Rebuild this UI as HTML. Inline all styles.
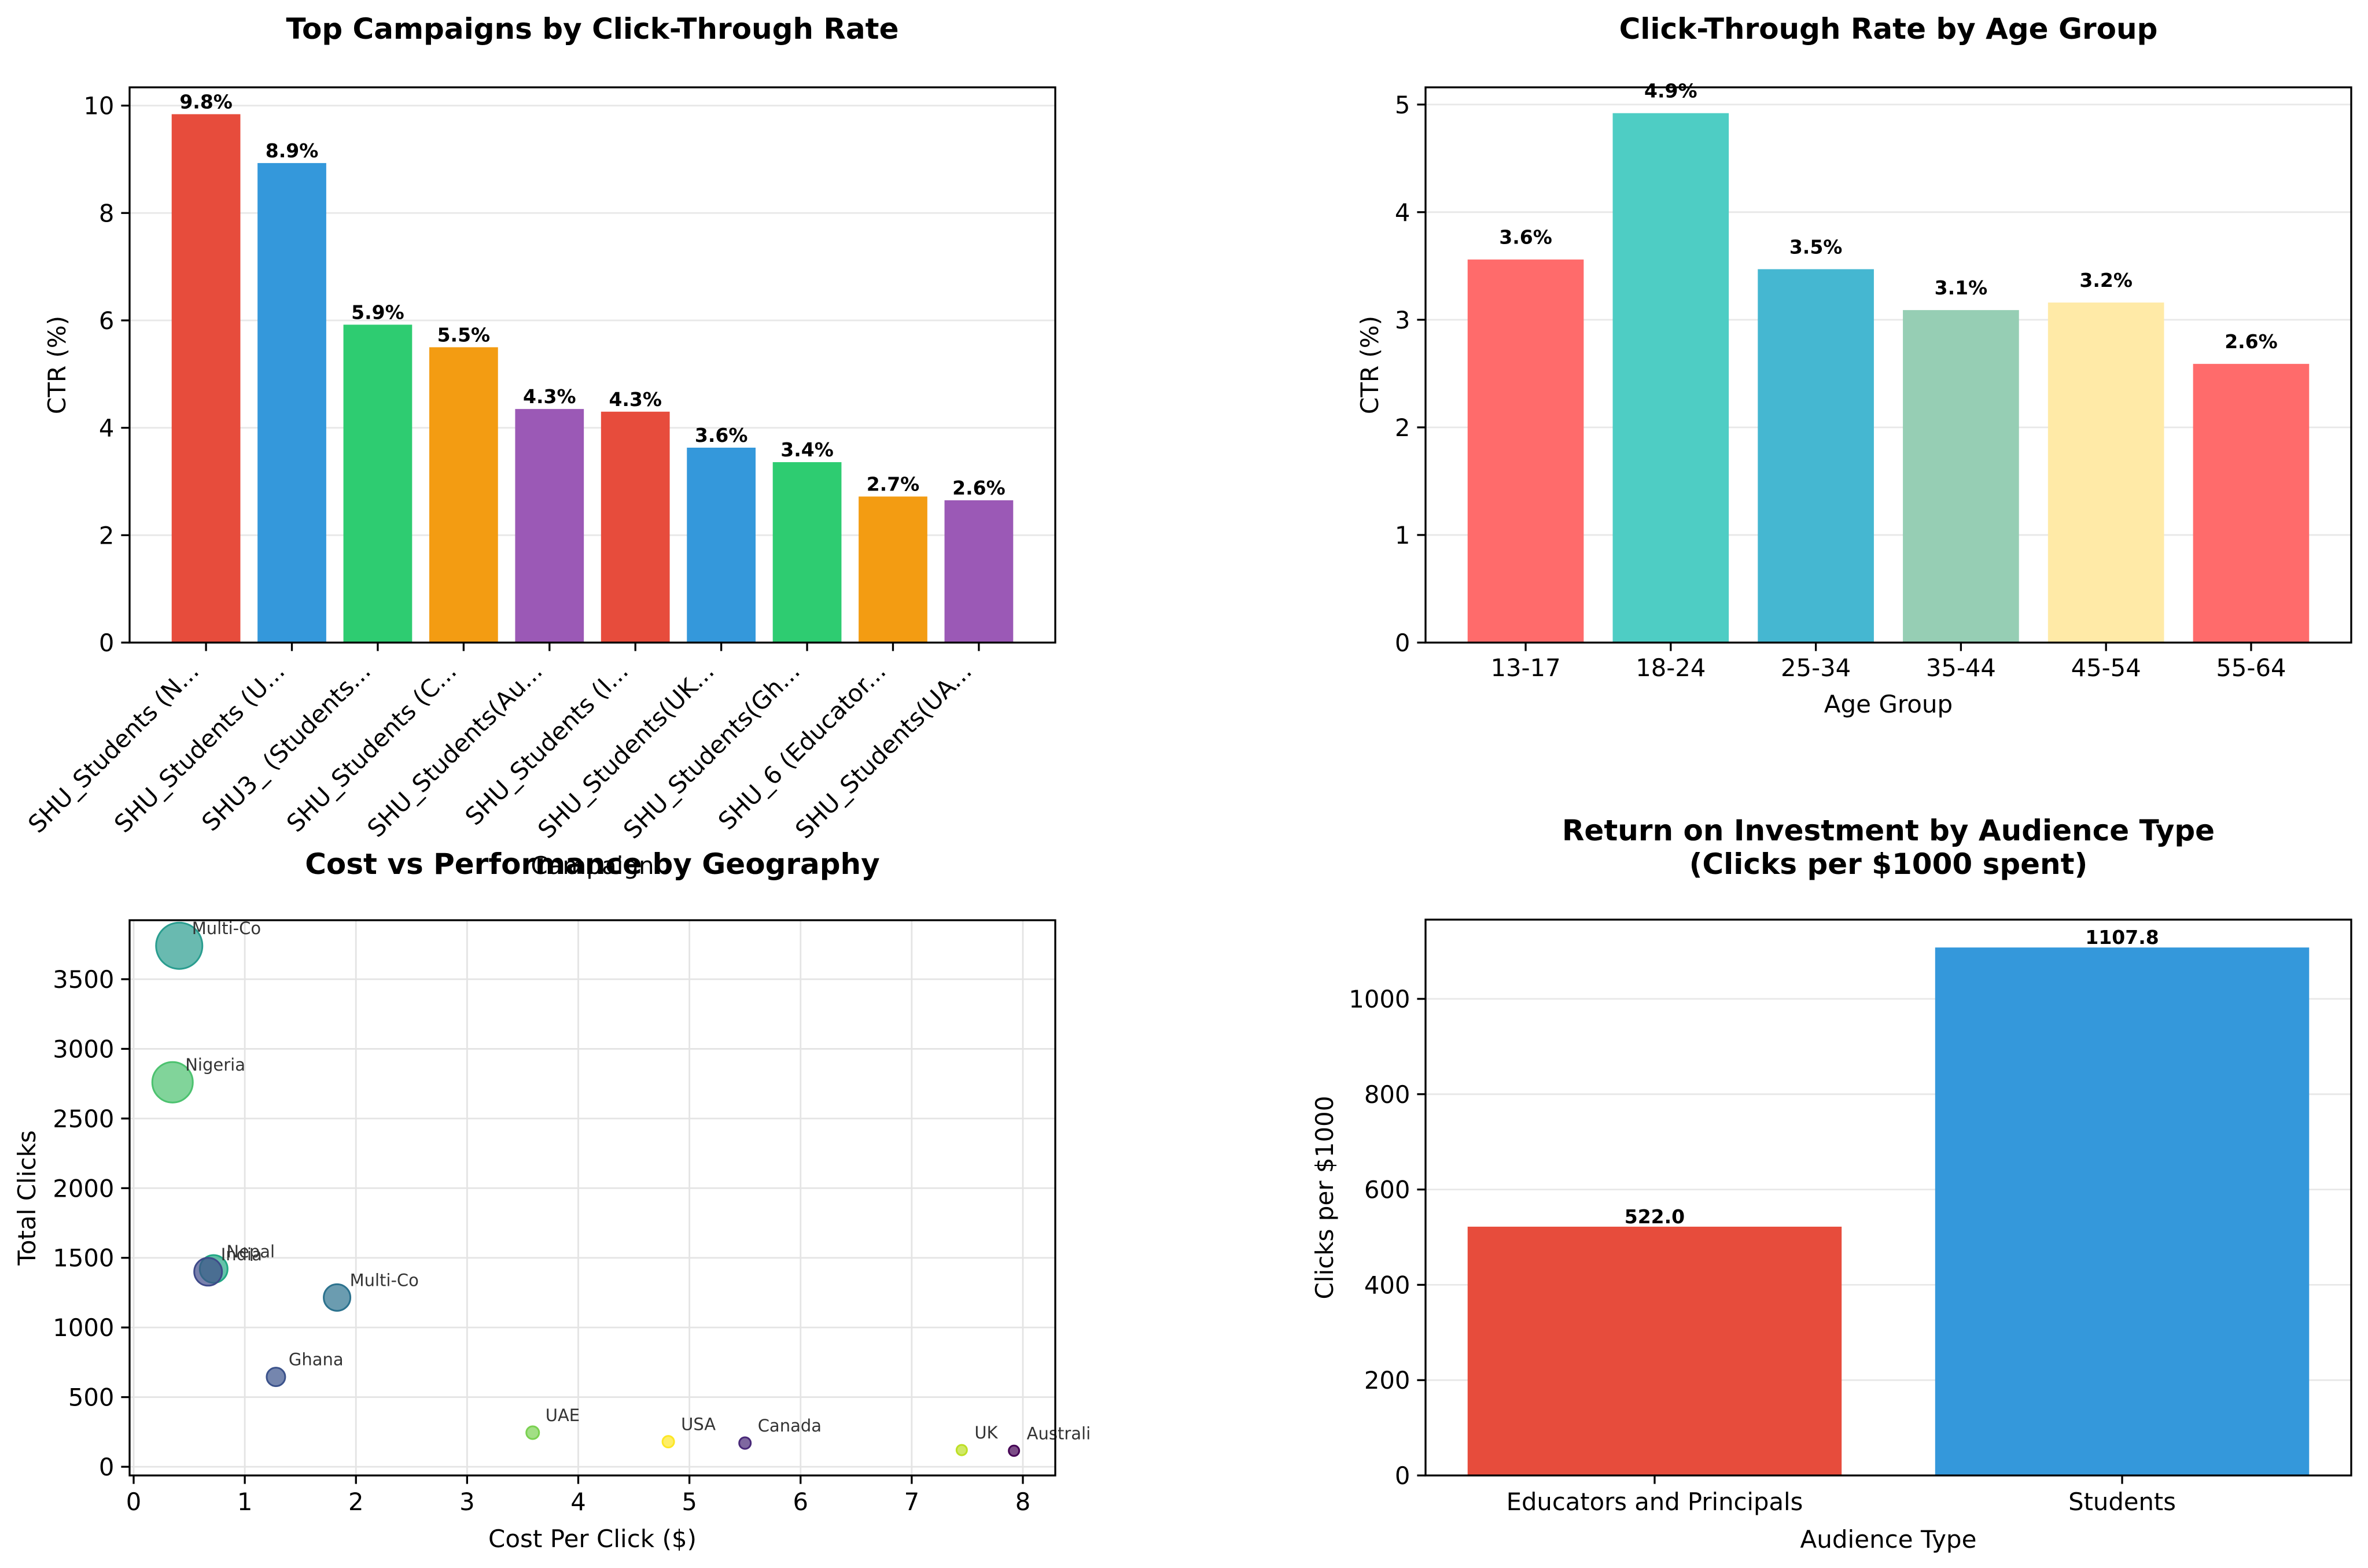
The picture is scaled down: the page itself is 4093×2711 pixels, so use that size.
<!DOCTYPE html>
<html><head><meta charset="utf-8"><style>
html,body{margin:0;padding:0;background:#fff}
svg{display:block;font-family:"DejaVu Sans","Liberation Sans",sans-serif}
</style></head><body>
<svg id="fig" width="4093" height="2711" viewBox="0 0 4093 2711" xmlns="http://www.w3.org/2000/svg"></svg>
<script>
// ---- data ----
const campaignLabels = ["SHU_Students (N...","SHU_Students (U...","SHU3_ (Students...","SHU_Students (C...","SHU_Students(Au...","SHU_Students (I...","SHU_Students(UK...","SHU_Students(Gh...","SHU_6 (Educator...","SHU_Students(UA..."];
const campaignCTR = [9.84, 8.93, 5.92, 5.5, 4.35, 4.3, 3.63, 3.36, 2.72, 2.65];
const campaignColors = ["#e74c3c","#3498db","#2ecc71","#f39c12","#9b59b6","#e74c3c","#3498db","#2ecc71","#f39c12","#9b59b6"];
const ctrTicks = [0,2,4,6,8,10];

const ageGroups = ["13-17","18-24","25-34","35-44","45-54","55-64"];
const ageCTR = [3.56, 4.92, 3.47, 3.09, 3.16, 2.59];
const ageColors = ["#ff6b6b","#4ecdc4","#45b7d1","#96ceb4","#ffeaa7","#ff6b6b"];
const ageTicks = [0,1,2,3,4,5];

const geoNames = ["Multi-Co","Nigeria","Nepal","India","Multi-Co","Ghana","UAE","USA","Canada","UK","Australi"];
const geoCPC = [0.41, 0.35, 0.72, 0.67, 1.83, 1.28, 3.59, 4.81, 5.5, 7.45, 7.92];
const geoClicks = [3740, 2760, 1420, 1400, 1215, 645, 245, 180, 170, 120, 115];
const geoRadius = [40, 35, 24, 24, 23, 16, 11, 10, 10, 9, 9];
const geoColors = ["#2a9d8f","#4cc26f","#22a884","#3e4a89","#2c728e","#3b528b","#7ad151","#fde725","#482878","#bddf26","#440154"];
const cpcTicks = [0,1,2,3,4,5,6,7,8];
const clickTicks = [0,500,1000,1500,2000,2500,3000,3500];

const audienceTypes = ["Educators and Principals","Students"];
const audienceROI = [522.0, 1107.8];
const audienceColors = ["#e74c3c","#3498db"];
const roiTicks = [0,200,400,600,800,1000];

// ---- helpers ----
const NS = "http://www.w3.org/2000/svg";
const svg = document.getElementById("fig");
const TICK = 41.7, LAB = 42, TIT = 50, VAL = 33, ANN = 29, TL = 14.6;
function mk(tag, attrs, parent, text){
  const e = document.createElementNS(NS, tag);
  for (const k in attrs) e.setAttribute(k, attrs[k]);
  if (text !== undefined) e.textContent = text;
  (parent || svg).appendChild(e);
  return e;
}
function linear(d0,d1,r0,r1){ return v => r0 + (v-d0)/(d1-d0)*(r1-r0); }

function frame(g, L, R, T, B){
  const f = mk("rect",{x:L,y:T,width:R-L,height:B-T,fill:"none",stroke:"#000","stroke-width":3.3},g);
  
  
}
function yAxis(g, ticks, y, L, R, gridColor){
  ticks.forEach(t=>{
    const yy = y(t);
    const gl = mk("line",{x1:L,x2:R,y1:yy,y2:yy,stroke:gridColor,"stroke-width":2.8},g);
    
    
    mk("line",{x1:L-TL,x2:L,y1:yy,y2:yy,stroke:"#000","stroke-width":3.3},g);
    const tx = mk("text",{x:L-TL-12,y:yy+15,"text-anchor":"end","font-size":TICK},g,String(t));
    
    
  });
}
function title(g, x, y, txt){
  const t = mk("text",{x:x,y:y,"text-anchor":"middle","font-size":TIT,"font-weight":"bold"},g,txt);
  
  
}
function ylabel(g, x, y, txt){
  const t = mk("text",{x:x,y:y,"text-anchor":"middle","font-size":LAB,transform:`rotate(-90 ${x} ${y})`},g,txt);
  
  
}
function xlabel(g, x, y, txt){
  const t = mk("text",{x:x,y:y,"text-anchor":"middle","font-size":LAB},g,txt);
  
  
}

// ---- panel 1: campaigns ----
(function(){
  const g = mk("g",{});  
  const L=224,R=1824,T=151,B=1111;
  const n = campaignCTR.length;
  const x = linear(-0.89, n-1+0.89, L, R);
  const y = linear(0, 10.34, B, T);
  yAxis(g, ctrTicks, y, L, R, "#e8e8e8");
  const bw = (x(0.8)-x(0));
  campaignCTR.forEach((v,i)=>{
    const r = mk("rect",{x:x(i)-bw/2,y:y(v),width:bw,height:B-y(v),fill:campaignColors[i]},g);
    
    
    const lb = mk("text",{x:x(i),y:y(v)-10,"text-anchor":"middle","font-size":VAL,"font-weight":"bold"},g,v.toFixed(1)+"%");
    
    
    mk("line",{x1:x(i),x2:x(i),y1:B,y2:B+TL,stroke:"#000","stroke-width":3.3},g);
    const ax = x(i)-10, ay = B+52;
    const tl = mk("text",{x:ax,y:ay,"text-anchor":"end","font-size":TICK,transform:`rotate(-45 ${ax} ${ay})`},g,campaignLabels[i]);
    
    
  });
  frame(g,L,R,T,B);
  ylabel(g, 113, (T+B)/2, "CTR (%)");
  xlabel(g, 1024, 1511, "Campaign");
  title(g, 1024, 67, "Top Campaigns by Click-Through Rate");
})();

// ---- panel 2: age ----
(function(){
  const g = mk("g",{});  
  const L=2464,R=4064,T=151,B=1111;
  const n = ageCTR.length;
  const x = linear(-0.69, n-1+0.69, L, R);
  const y = linear(0, 5.16, B, T);
  yAxis(g, ageTicks, y, L, R, "#e8e8e8");
  const bw = (x(0.8)-x(0));
  ageCTR.forEach((v,i)=>{
    const r = mk("rect",{x:x(i)-bw/2,y:y(v),width:bw,height:B-y(v),fill:ageColors[i]},g);
    
    
    const lb = mk("text",{x:x(i),y:y(v)-27,"text-anchor":"middle","font-size":VAL,"font-weight":"bold"},g,v.toFixed(1)+"%");
    
    
    mk("line",{x1:x(i),x2:x(i),y1:B,y2:B+TL,stroke:"#000","stroke-width":3.3},g);
    const tl = mk("text",{x:x(i),y:B+58,"text-anchor":"middle","font-size":TICK},g,ageGroups[i]);
    
    
  });
  frame(g,L,R,T,B);
  ylabel(g, 2382, (T+B)/2, "CTR (%)");
  xlabel(g, 3264, 1232, "Age Group");
  title(g, 3264, 67, "Click-Through Rate by Age Group");
})();

// ---- panel 3: scatter ----
(function(){
  const g = mk("g",{});  
  const L=224,R=1824,T=1591,B=2551;
  const x = linear(0, 8, 231, 1768);
  const y = linear(0, 3500, 2536, 1693);
  cpcTicks.forEach(t=>{
    const xx=x(t);
    const gl = mk("line",{x1:xx,x2:xx,y1:T,y2:B,stroke:"#e4e4e4","stroke-width":2.8},g);
    
    
    mk("line",{x1:xx,x2:xx,y1:B,y2:B+TL,stroke:"#000","stroke-width":3.3},g);
    const tl = mk("text",{x:xx,y:B+60,"text-anchor":"middle","font-size":TICK},g,String(t));
    
    
  });
  yAxis(g, clickTicks, y, L, R, "#e4e4e4");
  geoCPC.forEach((v,i)=>{
    const c = mk("circle",{cx:x(v),cy:y(geoClicks[i]),r:geoRadius[i],fill:geoColors[i],"fill-opacity":0.7,stroke:geoColors[i],"stroke-width":3},g);
    
    
    const t = mk("text",{x:x(v)+22,y:y(geoClicks[i])-20,"font-size":ANN,fill:"#333"},g,geoNames[i]);
    
    
  });
  frame(g,L,R,T,B);
  ylabel(g, 61, (T+B)/2, "Total Clicks");
  xlabel(g, 1024, 2675, "Cost Per Click ($)");
  title(g, 1024, 1511, "Cost vs Performance by Geography");
})();

// ---- panel 4: ROI ----
(function(){
  const g = mk("g",{});  
  const L=2464,R=4064,T=1590,B=2551;
  const n = audienceROI.length;
  const x = linear(-0.49, n-1+0.49, L, R);
  const y = linear(0, 1000, B, 1727);
  yAxis(g, roiTicks, y, L, R, "#e8e8e8");
  const bw = (x(0.8)-x(0));
  audienceROI.forEach((v,i)=>{
    const r = mk("rect",{x:x(i)-bw/2,y:y(v),width:bw,height:B-y(v),fill:audienceColors[i]},g);
    
    
    const lb = mk("text",{x:x(i),y:y(v)-6,"text-anchor":"middle","font-size":VAL,"font-weight":"bold"},g,v.toFixed(1));
    
    
    mk("line",{x1:x(i),x2:x(i),y1:B,y2:B+TL,stroke:"#000","stroke-width":3.3},g);
    const tl = mk("text",{x:x(i),y:B+60,"text-anchor":"middle","font-size":TICK},g,audienceTypes[i]);
    
    
  });
  frame(g,L,R,T,B);
  ylabel(g, 2304, (T+B)/2, "Clicks per $1000");
  xlabel(g, 3264, 2676, "Audience Type");
  title(g, 3264, 1453, "Return on Investment by Audience Type");
  title(g, 3264, 1511, "(Clicks per $1000 spent)");
})();
</script>
</body></html>
